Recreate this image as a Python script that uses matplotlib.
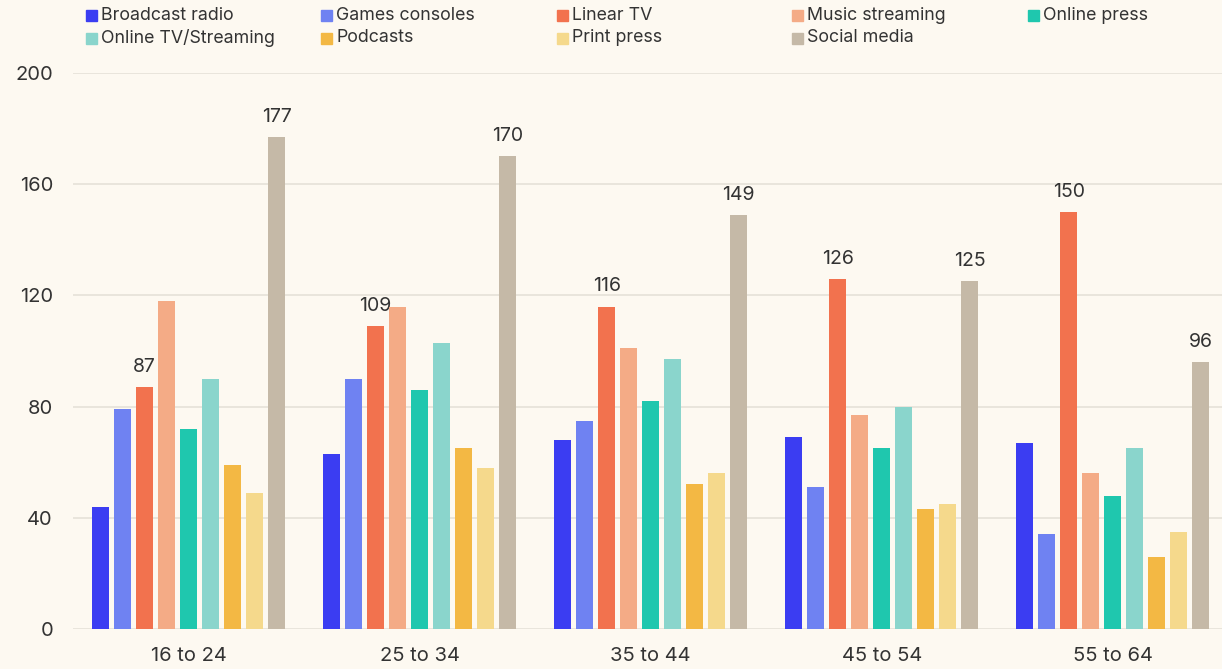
import matplotlib.pyplot as plt
import matplotlib.patches as mpatches
import numpy as np

plt.rcParams['font.family'] = ['Inter', 'DejaVu Sans']

# data
age_groups = ['16 to 24', '25 to 34', '35 to 44', '45 to 54', '55 to 64']
media = ['Broadcast radio', 'Games consoles', 'Linear TV', 'Music streaming',
         'Online press', 'Online TV/Streaming', 'Podcasts', 'Print press',
         'Social media']
broadcast_radio = [44, 63, 68, 69, 67]
games_consoles = [79, 90, 75, 51, 34]
linear_tv = [87, 109, 116, 126, 150]
music_streaming = [118, 116, 101, 77, 56]
online_press = [72, 86, 82, 65, 48]
online_tv = [90, 103, 97, 80, 65]
podcasts = [59, 65, 52, 43, 26]
print_press = [49, 58, 56, 45, 35]
social_media = [177, 170, 149, 125, 96]
yticks = [0, 40, 80, 120, 160, 200]

series = [broadcast_radio, games_consoles, linear_tv, music_streaming,
          online_press, online_tv, podcasts, print_press, social_media]
colors = ['#3b3df2', '#6f82f2', '#f2724e', '#f4ab86', '#1fc7ae',
          '#8ad5cc', '#f3b844', '#f5d98c', '#c5b9a7']
labelled = ['Linear TV', 'Social media']

bg = '#fdf9f1'
txt = '#333333'
W, H = 1222, 669

fig = plt.figure(figsize=(W / 100, H / 100), dpi=100, facecolor=bg)
ax = fig.add_axes([73 / W, 40 / H, 1155.5 / W, 556 / H])
ax.set_facecolor(bg)

x = np.arange(len(age_groups))
step = 0.0952
width = 0.0736
for i, (name, vals, c) in enumerate(zip(media, series, colors)):
    pos = x + (i - 4) * step
    bars = ax.bar(pos, vals, width=width, color=c, zorder=3)
    if name in labelled:
        for b, v in zip(bars, vals):
            ax.annotate(str(v), (b.get_x() + b.get_width() / 2, v),
                        xytext=(0, 8), textcoords='offset points',
                        ha='center', va='bottom', fontsize=14, color=txt)

ax.set_xlim(-0.5, 4.5)
ax.set_ylim(0, 200)
ax.set_yticks(yticks)
ax.set_xticks(x)
ax.set_xticklabels(age_groups)
ax.grid(axis='y', color='#e6e1d8', linewidth=1.2, zorder=0)
ax.tick_params(axis='both', length=0, labelsize=14.5, labelcolor=txt)
ax.tick_params(axis='y', pad=14.4)
ax.tick_params(axis='x', pad=13)
for s in ax.spines.values():
    s.set_visible(False)

# legend laid out in two rows of five
col_x = [86, 321, 557, 792, 1028]
row_y = [15, 38]
for i, (name, c) in enumerate(zip(media, colors)):
    px = col_x[i % 5]
    py = row_y[i // 5]
    fig.patches.append(mpatches.Rectangle(
        (px / W, 1 - (py + 5.5) / H), 11 / W, 11 / H,
        transform=fig.transFigure, color=c, figure=fig))
    fig.text((px + 15) / W, 1 - py / H, name, fontsize=12.8,
             color=txt, va='center', ha='left')

fig.savefig('out.png', dpi=100, facecolor=bg)
